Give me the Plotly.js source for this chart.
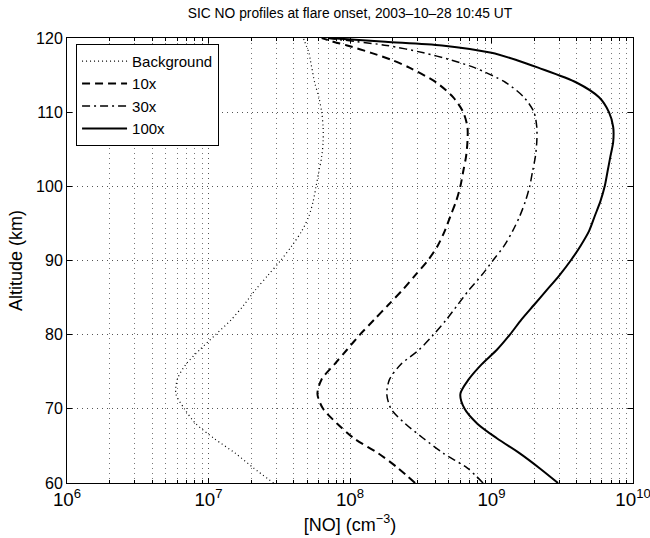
<!DOCTYPE html>
<html>
<head>
<meta charset="utf-8">
<script src="https://cdn.plot.ly/plotly-3.0.1.min.js"></script>
<style>html,body{margin:0;padding:0;background:#fff;}#chart{width:650px;height:538px;}</style>
</head>
<body>
<div id="chart"></div>
<script>
// Altitude grid (km)
const altitude = [60,62,64,66,68,70,72,74,76,78,80,82,84,86,88,90,92,94,96,98,100,102,104,106,108,110,112,114,116,117,118,119,119.5,120];
// log10 of [NO] (cm^-3)
const logBackground = [7.46,7.32,7.19,7.04,6.91,6.83,6.77,6.78,6.84,6.94,7.05,7.16,7.25,7.33,7.42,7.51,7.59,7.66,7.71,7.74,7.76,7.78,7.80,7.81,7.81,7.80,7.78,7.75,7.73,7.72,7.71,7.69,7.68,7.67];
const log10x = [8.46,8.34,8.20,8.03,7.91,7.81,7.77,7.80,7.89,7.98,8.07,8.17,8.27,8.37,8.46,8.55,8.62,8.67,8.71,8.75,8.78,8.80,8.82,8.83,8.83,8.80,8.73,8.61,8.42,8.30,8.15,7.98,7.88,7.80];
const log30x = [8.94,8.83,8.66,8.52,8.39,8.29,8.26,8.28,8.36,8.49,8.59,8.68,8.76,8.84,8.93,9.01,9.09,9.15,9.20,9.24,9.27,9.29,9.31,9.32,9.32,9.30,9.23,9.10,8.88,8.72,8.52,8.26,8.05,7.83];
const log100x = [9.47,9.34,9.20,9.04,8.90,8.81,8.78,8.84,8.93,9.04,9.13,9.21,9.30,9.39,9.48,9.56,9.63,9.69,9.73,9.77,9.80,9.82,9.84,9.86,9.86,9.83,9.76,9.60,9.33,9.18,9.00,8.65,8.25,7.85];
const seriesNames = ["Background","10x","30x","100x"];
const titleText = "SIC NO profiles at flare onset, 2003\u201310\u201328 10:45 UT";

const toLin = a => a.map(v => Math.pow(10, v));
const styles = [
  {dash:"1px,3px", width:1.2},
  {dash:"8px,5px", width:2},
  {dash:"8px,4px,2px,4px", width:1.5},
  {dash:"solid", width:2}
];
const data = [logBackground, log10x, log30x, log100x].map((s,i) => ({
  type:"scatter", mode:"lines", name:seriesNames[i],
  x: toLin(s), y: altitude,
  line:{color:"#000", width:styles[i].width, dash:styles[i].dash, shape:"spline", smoothing:0.8}
}));

const font = {family:"Liberation Sans, Arial, sans-serif", color:"#000"};
const layout = {
  width:650, height:538,
  margin:{l:67, r:17, t:38, b:55},
  paper_bgcolor:"#fff", plot_bgcolor:"#fff",
  font:Object.assign({size:14}, font),
  title:{text:titleText, font:Object.assign({size:13.8}, font), x:0.5, xref:"paper", y:0.985, yanchor:"top"},
  showlegend:true,
  legend:{x:0.016, y:0.987, xanchor:"left", yanchor:"top", bgcolor:"#fff", bordercolor:"#000", borderwidth:1,
          itemwidth:45, font:Object.assign({size:15}, font), tracegroupgap:0},
  xaxis:{type:"log", range:[6,10], dtick:1, exponentformat:"power", showexponent:"all",
         ticklabeloverflow:"allow",
         showline:true, linecolor:"#000", linewidth:1, mirror:"allticks",
         ticks:"inside", ticklen:5, tickcolor:"#000",
         showgrid:true, gridcolor:"#555", griddash:"1px,4px", gridwidth:1,
         minor:{dtick:"D1", ticks:"inside", ticklen:3, tickcolor:"#000", showgrid:true, gridcolor:"#777", griddash:"1px,4px", gridwidth:1},
         zeroline:false,
         tickfont:Object.assign({size:15}, font),
         title:{text:"[NO] (cm<sup>\u22123</sup>)", font:Object.assign({size:18}, font), standoff:9}},
  yaxis:{range:[60,120], dtick:10, showline:true, linecolor:"#000", linewidth:1, mirror:"allticks",
         ticks:"inside", ticklen:5, tickcolor:"#000",
         showgrid:true, gridcolor:"#555", griddash:"1px,4px", gridwidth:1, zeroline:false,
         tickfont:Object.assign({size:16}, font),
         title:{text:"Altitude (km)", font:Object.assign({size:18}, font), standoff:8}}
};
Plotly.newPlot("chart", data, layout, {staticPlot:true});
</script>
</body>
</html>
